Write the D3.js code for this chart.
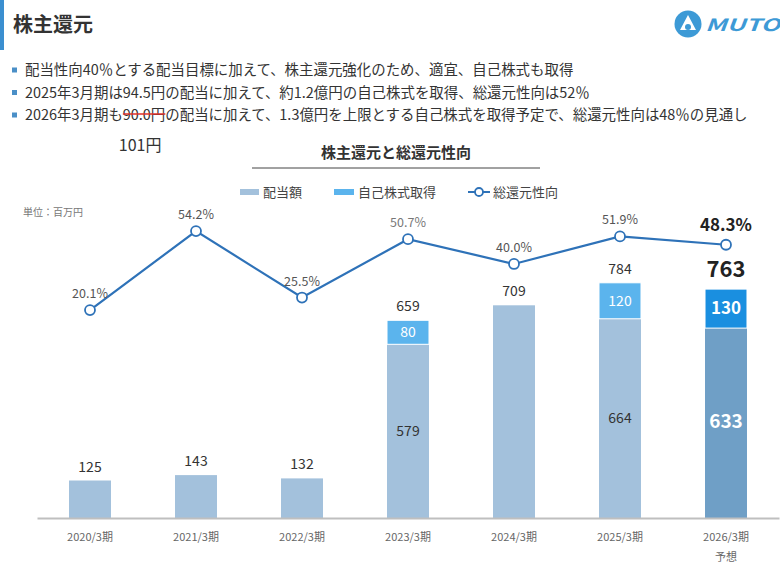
<!DOCTYPE html>
<html>
<head>
<meta charset="utf-8">
<script src="https://cdn.jsdelivr.net/npm/d3@7"></script>
<style>
  body { margin: 0; background: #fff; }
  text { font-family: "Noto Sans CJK JP", "Noto Sans", sans-serif; }
</style>
</head>
<body>
<div id="chart"></div>
<script>
const categories = ["2020/3期", "2021/3期", "2022/3期", "2023/3期", "2024/3期", "2025/3期", "2026/3期"];
const dividend = [125, 143, 132, 579, 709, 664, 633];
const buyback = [0, 0, 0, 80, 0, 120, 130];
const totals = [125, 143, 132, 659, 709, 784, 763];
const payout = [20.1, 54.2, 25.5, 50.7, 40.0, 51.9, 48.3];
const bullets = [
  "配当性向40％とする配当目標に加えて、株主還元強化のため、適宜、自己株式も取得",
  "2025年3月期は94.5円の配当に加えて、約1.2億円の自己株式を取得、総還元性向は52％",
  "2026年3月期も90.0円の配当に加えて、1.3億円を上限とする自己株式を取得予定で、総還元性向は48％の見通し"
];

const W = 780, H = 570;
const svg = d3.select("#chart").append("svg")
  .attr("width", W).attr("height", H);

// header
svg.append("rect").attr("x", 0).attr("y", 0).attr("width", 4).attr("height", 50).attr("fill", "#3b8fd0");
svg.append("text").attr("x", 13).attr("y", 32)
  .attr("font-size", 20).attr("font-weight", 700).attr("fill", "#333").text("株主還元");

// logo
const logo = svg.append("g").attr("transform", "translate(688,24)");
logo.append("circle").attr("r", 13.5).attr("fill", "#3d9ad6");
logo.append("path").attr("d", "M0,-9 L8,6 L-8,6 Z").attr("fill", "#fff");
logo.append("circle").attr("cy", 3).attr("r", 3).attr("fill", "#3d9ad6");
svg.append("text").attr("x", 705).attr("y", 31)
  .attr("font-size", 17).attr("font-weight", 700).attr("font-style", "italic")
  .attr("fill", "#3d9ad6").attr("textLength", 75).attr("lengthAdjust", "spacingAndGlyphs")
  .text("MUTO");

// bullet lines
const lineY = [70, 92.5, 115];
bullets.forEach((t, i) => {
  svg.append("rect").attr("x", 12).attr("y", lineY[i] - 2.5).attr("width", 5).attr("height", 5).attr("fill", "#4a8fc7");
  const tx = svg.append("text").attr("x", 25).attr("y", lineY[i] + 5)
    .attr("font-size", 14.45).attr("fill", "#333").text(t);
  if (i === 2) {
    const start = t.indexOf("90.0円");
    const node = tx.node();
    const x0 = 25 + node.getSubStringLength(0, start);
    const w = node.getSubStringLength(start, 5);
    svg.append("line").attr("x1", x0).attr("x2", x0 + w)
      .attr("y1", lineY[i] - 1).attr("y2", lineY[i] - 1)
      .attr("stroke", "#e0302a").attr("stroke-width", 1.6);
    svg.append("text").attr("x", x0 - 4).attr("y", 151)
      .attr("font-size", 16).attr("fill", "#333").text("101円");
  }
});

// chart title
svg.append("text").attr("x", 396).attr("y", 158).attr("text-anchor", "middle")
  .attr("font-size", 15).attr("font-weight", 700).attr("fill", "#333").text("株主還元と総還元性向");
svg.append("line").attr("x1", 252).attr("x2", 540).attr("y1", 168).attr("y2", 168)
  .attr("stroke", "#444").attr("stroke-width", 1);

svg.append("text").attr("x", 23).attr("y", 216)
  .attr("font-size", 10).attr("fill", "#777").text("単位：百万円");

// legend
const leg = svg.append("g").attr("font-size", 13).attr("fill", "#444");
leg.append("rect").attr("x", 240).attr("y", 189).attr("width", 19).attr("height", 6).attr("fill", "#a3c1dc");
leg.append("text").attr("x", 263).attr("y", 197).text("配当額");
leg.append("rect").attr("x", 334).attr("y", 189).attr("width", 20).attr("height", 6).attr("fill", "#5bb4ed");
leg.append("text").attr("x", 358).attr("y", 197).text("自己株式取得");
leg.append("line").attr("x1", 468).attr("x2", 490).attr("y1", 192).attr("y2", 192)
  .attr("stroke", "#2e72b8").attr("stroke-width", 2);
leg.append("circle").attr("cx", 479).attr("cy", 192).attr("r", 4)
  .attr("fill", "#fff").attr("stroke", "#2e72b8").attr("stroke-width", 1.8);
leg.append("text").attr("x", 493).attr("y", 197).text("総還元性向");

// scales
const x = d3.scaleBand().domain(categories).range([37, 779]).paddingInner(0.604).paddingOuter(0.302);
const y = d3.scaleLinear().domain([0, 1000]).range([518, 218]);
const yp = d3.scaleLinear().domain([0, 100]).range([356.6, 125]);

const rows = categories.map((c, i) => ({ cat: c, dividend: dividend[i], buyback: buyback[i] }));
const stack = d3.stack().keys(["dividend", "buyback"])(rows);
const last = categories[categories.length - 1];
const colors = {
  dividend: c => c === last ? "#6f9fc6" : "#a3c1dc",
  buyback: c => c === last ? "#1a8fe0" : "#5bb4ed"
};

stack.forEach(layer => {
  svg.append("g").selectAll("rect")
    .data(layer.filter(d => d[1] > d[0]))
    .join("rect")
    .attr("x", d => x(d.data.cat))
    .attr("y", d => y(d[1]))
    .attr("width", x.bandwidth())
    .attr("height", d => y(d[0]) - y(d[1]))
    .attr("fill", d => colors[layer.key](d.data.cat))
    .attr("stroke", "#fff").attr("stroke-width", layer.key === "buyback" ? 1 : 0);
});

// axis
const xAxis = svg.append("g").attr("transform", "translate(0,518)")
  .call(d3.axisBottom(x).tickSize(0).tickPadding(15));
xAxis.select(".domain").attr("stroke", "#bfbfbf").attr("stroke-width", 2);
xAxis.selectAll("text").attr("font-size", 11).attr("fill", "#666")
  .style("font-family", "'Noto Sans CJK JP', sans-serif");
svg.append("text").attr("x", x(last) + x.bandwidth() / 2).attr("y", 561)
  .attr("text-anchor", "middle").attr("font-size", 11).attr("fill", "#666").text("予想");

// value labels inside segments
stack.forEach(layer => {
  svg.append("g").selectAll("text")
    .data(layer.filter(d => d[1] > d[0] && (d.data.buyback > 0)))
    .join("text")
    .attr("x", d => x(d.data.cat) + x.bandwidth() / 2)
    .attr("y", d => (y(d[0]) + y(d[1])) / 2 + 5)
    .attr("text-anchor", "middle")
    .attr("font-size", d => d.data.cat === last ? (layer.key === "dividend" ? 19 : 17) : 14)
    .attr("font-weight", d => d.data.cat === last ? 700 : 400)
    .attr("fill", d => (layer.key === "buyback" || d.data.cat === last) ? "#fff" : "#333")
    .text(d => d[1] - d[0]);
});

// totals above bars
svg.append("g").selectAll("text")
  .data(categories)
  .join("text")
  .attr("x", d => x(d) + x.bandwidth() / 2)
  .attr("y", (d, i) => y(totals[i]) - (d === last ? 12 : 9))
  .attr("text-anchor", "middle")
  .attr("font-size", d => d === last ? 22 : 14)
  .attr("font-weight", d => d === last ? 700 : 400)
  .attr("fill", d => d === last ? "#222" : "#333")
  .text((d, i) => totals[i]);

// payout line
const pts = categories.map((c, i) => ({ cat: c, v: payout[i] }));
svg.append("path").datum(pts)
  .attr("fill", "none").attr("stroke", "#2e72b8").attr("stroke-width", 2.2)
  .attr("d", d3.line().x(d => x(d.cat) + x.bandwidth() / 2).y(d => yp(d.v)));
svg.append("g").selectAll("circle")
  .data(pts)
  .join("circle")
  .attr("cx", d => x(d.cat) + x.bandwidth() / 2)
  .attr("cy", d => yp(d.v))
  .attr("r", 5)
  .attr("fill", "#fff").attr("stroke", "#2e72b8").attr("stroke-width", 1.8);
svg.append("g").selectAll("text")
  .data(pts)
  .join("text")
  .attr("x", d => x(d.cat) + x.bandwidth() / 2)
  .attr("y", d => yp(d.v) - (d.cat === last ? 14 : 12))
  .attr("text-anchor", "middle")
  .attr("font-size", d => d.cat === last ? 17 : 12.5)
  .attr("font-weight", d => d.cat === last ? 700 : 400)
  .attr("fill", d => d.cat === last ? "#222" : (d.cat === "2023/3期" ? "#777" : "#555"))
  .text(d => d.v.toFixed(1) + "%");
</script>
</body>
</html>
